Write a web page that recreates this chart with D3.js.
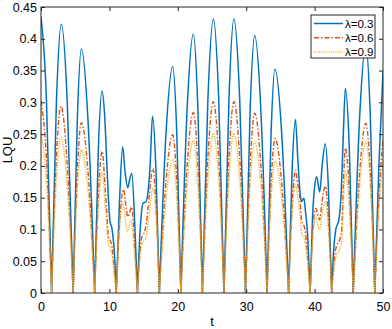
<!DOCTYPE html>
<html>
<head>
<meta charset="utf-8">
<script src="https://cdn.jsdelivr.net/npm/d3@7"></script>
<style>
  body { margin: 0; background: #fff; }
  text { font-family: "Liberation Sans", Arial, sans-serif; }
</style>
</head>
<body>
<div id="container"></div>
<script>
// LQU vs t as [t, value] pairs (zeros split the lobes)
const lqu03 = [
  [0, 0.435], [0.78, 0.31], [1.55, 0],
  [2.25, 0.3], [2.97, 0.423], [3.84, 0.3], [4.7, 0],
  [5.3, 0.27], [5.9, 0.384], [6.88, 0.27], [7.85, 0],
  [8.38, 0.225], [8.92, 0.318], [9.3, 0.28], [9.6, 0.21], [9.85, 0.15], [10.1, 0.112], [10.35, 0.103], [10.8, 0.05], [11.0, 0],
  [11.5, 0.15], [11.94, 0.23], [12.3, 0.19], [12.68, 0.166], [12.95, 0.178], [13.28, 0.188], [13.72, 0.105], [14.1, 0],
  [14.5, 0.1], [14.96, 0.142], [15.3, 0.143], [15.6, 0.155], [15.95, 0.2], [16.3, 0.278], [16.8, 0.195], [17.3, 0],
  [18.28, 0.252], [19.25, 0.356], [19.85, 0.252], [20.45, 0],
  [21.36, 0.288], [22.27, 0.407], [22.94, 0.288], [23.6, 0],
  [24.4, 0.305], [25.2, 0.431], [25.98, 0.305], [26.75, 0],
  [27.48, 0.305], [28.2, 0.431], [29.05, 0.305], [29.9, 0],
  [30.57, 0.286], [31.24, 0.405], [32.15, 0.286], [33.05, 0],
  [33.63, 0.249], [34.2, 0.352], [35.2, 0.249], [36.2, 0],
  [36.7, 0.19], [37.2, 0.273], [37.55, 0.21], [37.9, 0.155], [38.06, 0.144], [38.45, 0.149], [38.65, 0.13], [38.93, 0.099], [39.35, 0],
  [39.7, 0.12], [40.0, 0.167], [40.3, 0.183], [40.75, 0.159], [41.1, 0.2], [41.57, 0.235], [42.0, 0.17], [42.5, 0],
  [42.8, 0.07], [43.1, 0.1], [43.55, 0.115], [43.9, 0.16], [44.2, 0.25], [44.5, 0.322], [45.07, 0.228], [45.65, 0],
  [46.58, 0.276], [47.5, 0.39], [48.15, 0.276], [48.8, 0],
  [49.4, 0.2], [50, 0.348]
];

const lqu06 = [
  [0, 0.302], [0.78, 0.215], [1.55, 0],
  [2.22, 0.208], [2.92, 0.294], [3.8, 0.208], [4.7, 0],
  [5.3, 0.19], [5.9, 0.268], [6.88, 0.19], [7.85, 0],
  [8.4, 0.158], [8.95, 0.223], [9.35, 0.17], [9.6, 0.13], [9.85, 0.09], [10.1, 0.083], [10.35, 0.075], [10.7, 0.04], [11.0, 0],
  [11.5, 0.11], [12.04, 0.163], [12.7, 0.12], [13.26, 0.135], [13.7, 0.075], [14.1, 0],
  [14.45, 0.065], [14.75, 0.088], [15.1, 0.095], [15.4, 0.11], [15.8, 0.15], [16.35, 0.196], [16.8, 0.14], [17.3, 0],
  [18.28, 0.176], [19.25, 0.249], [19.85, 0.176], [20.45, 0],
  [21.36, 0.2], [22.27, 0.284], [22.94, 0.2], [23.6, 0],
  [24.4, 0.213], [25.2, 0.301], [25.98, 0.213], [26.75, 0],
  [27.48, 0.213], [28.2, 0.301], [29.05, 0.213], [29.9, 0],
  [30.57, 0.2], [31.24, 0.283], [32.15, 0.2], [33.05, 0],
  [33.63, 0.172], [34.22, 0.243], [35.2, 0.172], [36.2, 0],
  [36.7, 0.135], [37.2, 0.193], [37.55, 0.17], [37.8, 0.154], [38.1, 0.115], [38.6, 0.1], [38.95, 0.06], [39.35, 0],
  [39.75, 0.1], [40.15, 0.133], [40.74, 0.115], [41.1, 0.145], [41.57, 0.168], [42.0, 0.12], [42.5, 0],
  [42.85, 0.05], [43.17, 0.073], [43.6, 0.082], [43.96, 0.1], [44.2, 0.17], [44.5, 0.228], [45.07, 0.161], [45.65, 0],
  [46.58, 0.189], [47.5, 0.267], [48.15, 0.189], [48.8, 0],
  [49.4, 0.15], [50, 0.243]
];

const lqu09 = [
  [0, 0.252], [0.78, 0.178], [1.55, 0],
  [2.22, 0.173], [2.92, 0.245], [3.8, 0.173], [4.7, 0],
  [5.3, 0.159], [5.9, 0.225], [6.88, 0.159], [7.85, 0],
  [8.4, 0.134], [8.95, 0.19], [9.4, 0.135], [9.85, 0.078], [10.1, 0.07], [10.35, 0.062], [10.7, 0.03], [11.0, 0],
  [11.45, 0.1], [11.92, 0.143], [12.65, 0.097], [13.16, 0.115], [13.65, 0.062], [14.1, 0],
  [14.5, 0.058], [14.96, 0.082], [15.3, 0.086], [15.8, 0.122], [16.4, 0.165], [16.85, 0.117], [17.3, 0],
  [18.28, 0.148], [19.25, 0.21], [19.85, 0.148], [20.45, 0],
  [21.36, 0.17], [22.27, 0.24], [22.94, 0.17], [23.6, 0],
  [24.4, 0.177], [25.2, 0.251], [25.98, 0.177], [26.75, 0],
  [27.48, 0.177], [28.2, 0.251], [29.05, 0.177], [29.9, 0],
  [30.57, 0.168], [31.24, 0.238], [32.15, 0.168], [33.05, 0],
  [33.63, 0.146], [34.22, 0.207], [35.2, 0.146], [36.2, 0],
  [36.7, 0.12], [37.2, 0.17], [37.55, 0.15], [37.8, 0.13], [38.1, 0.095], [38.5, 0.085], [38.95, 0.05], [39.35, 0],
  [39.75, 0.09], [40.15, 0.12], [40.74, 0.099], [41.1, 0.125], [41.57, 0.144], [42.0, 0.1], [42.5, 0],
  [42.85, 0.04], [43.2, 0.06], [43.6, 0.067], [43.96, 0.082], [44.2, 0.14], [44.5, 0.19], [45.07, 0.134], [45.65, 0],
  [46.58, 0.168], [47.5, 0.238], [48.15, 0.168], [48.8, 0],
  [49.4, 0.13], [50, 0.21]
];

const seriesLabels = ["\u03bb=0.3", "\u03bb=0.6", "\u03bb=0.9"];
const xTicks = [0, 10, 20, 30, 40, 50];
const yTicks = [0, 0.05, 0.1, 0.15, 0.2, 0.25, 0.3, 0.35, 0.4, 0.45];

const seriesStyle = [
  { color: "#0072BD", dash: null, width: 1.5 },
  { color: "#D95319", dash: "5,2,1.5,2", width: 1.4 },
  { color: "#EDB120", dash: "1.2,1.2", width: 1.4 }
];

const W = 392, H = 329;
const margin = { top: 7, right: 9, bottom: 36, left: 41 };
const width = W - margin.left - margin.right;
const height = H - margin.top - margin.bottom;

const svg = d3.select("#container")
  .append("svg")
  .attr("width", W)
  .attr("height", H);

const g = svg.append("g")
  .attr("transform", `translate(${margin.left},${margin.top})`);

const x = d3.scaleLinear().domain([0, 50]).range([0, width]);
const y = d3.scaleLinear().domain([0, 0.45]).range([height, 0]);

g.append("clipPath").attr("id", "clip")
  .append("rect").attr("width", width).attr("height", height);

// split each series into lobes at its zeros so troughs stay sharp
function lobes(data) {
  const out = [];
  let cur = [];
  data.forEach((d, i) => {
    cur.push(d);
    if (d[1] === 0 && i > 0) {
      out.push(cur);
      cur = [d];
    }
  });
  if (cur.length > 1) out.push(cur);
  return out;
}

const line = d3.line()
  .x(d => x(d[0]))
  .y(d => y(d[1]))
  .curve(d3.curveMonotoneX);

const allSeries = [lqu03, lqu06, lqu09];
const plot = g.append("g").attr("clip-path", "url(#clip)");

allSeries.forEach((s, i) => {
  const st = seriesStyle[i];
  plot.append("path")
    .attr("d", lobes(s).map(seg => line(seg)).join(""))
    .attr("fill", "none")
    .attr("stroke", st.color)
    .attr("stroke-width", st.width)
    .attr("stroke-dasharray", st.dash);
});

// axes, MATLAB style (ticks inward, box on)
const fmt = d => String(+d.toFixed(2));
const axisColor = "#262626";

const xAxis = g.append("g")
  .attr("transform", `translate(0,${height})`)
  .call(d3.axisBottom(x).tickValues(xTicks).tickFormat(fmt).tickSizeInner(-4).tickSizeOuter(0).tickPadding(9));
const xTop = g.append("g")
  .call(d3.axisTop(x).tickValues(xTicks).tickFormat("").tickSizeInner(-4).tickSizeOuter(0));
const yAxis = g.append("g")
  .call(d3.axisLeft(y).tickValues(yTicks).tickFormat(fmt).tickSizeInner(-4).tickSizeOuter(0).tickPadding(4));
const yRight = g.append("g")
  .attr("transform", `translate(${width},0)`)
  .call(d3.axisRight(y).tickValues(yTicks).tickFormat("").tickSizeInner(-4).tickSizeOuter(0));

[xAxis, xTop, yAxis, yRight].forEach(a => {
  a.select(".domain").remove();
  a.selectAll("line").attr("stroke", axisColor);
  a.selectAll("text").attr("fill", "#000").style("font-size", "12.5px");
});

g.append("rect")
  .attr("width", width)
  .attr("height", height)
  .attr("fill", "none")
  .attr("stroke", axisColor)
  .attr("stroke-width", 1);

g.append("text")
  .attr("x", width / 2)
  .attr("y", height + 33)
  .attr("text-anchor", "middle")
  .style("font-size", "13px")
  .text("t");

g.append("text")
  .attr("transform", `translate(${-29},${height / 2}) rotate(-90)`)
  .attr("text-anchor", "middle")
  .style("font-size", "13px")
  .text("LQU");

// legend
const lg = g.append("g").attr("transform", `translate(${270},${8})`);
lg.append("rect")
  .attr("width", 64)
  .attr("height", 43)
  .attr("fill", "#fff")
  .attr("stroke", axisColor)
  .attr("stroke-width", 1);

seriesLabels.forEach((lab, i) => {
  const st = seriesStyle[i];
  const yy = 8.5 + i * 14.2;
  lg.append("line")
    .attr("x1", 3).attr("x2", 32)
    .attr("y1", yy).attr("y2", yy)
    .attr("stroke", st.color)
    .attr("stroke-width", st.width)
    .attr("stroke-dasharray", st.dash);
  lg.append("text")
    .attr("x", 34)
    .attr("y", yy + 4)
    .style("font-size", "11.5px")
    .text(lab);
});
</script>
</body>
</html>
